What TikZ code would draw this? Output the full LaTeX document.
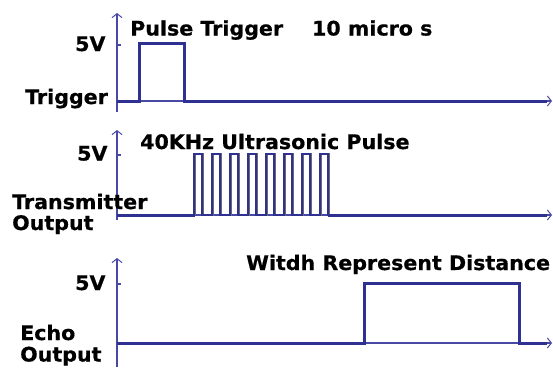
\documentclass[tikz,border=0pt]{standalone}
\usepackage{fontspec}
\setmainfont{DejaVu Sans}[FakeStretch=1.03, BoldFeatures={FakeBold=0.6}]
\usetikzlibrary{arrows.meta}
\definecolor{sig}{RGB}{46,49,146}
\definecolor{axc}{RGB}{72,72,165}
\definecolor{shd}{RGB}{105,105,110}
\begin{document}
\begin{tikzpicture}[x=1pt,y=-1pt,
  lbl/.style={font=\fontsize{20}{24}\selectfont\bfseries, inner sep=0pt, text=black, anchor=base west},
  axis/.style={draw=axc, line width=1.2pt, -{Straight Barb[length=4pt,width=10pt,line width=1pt]}},
  signal/.style={draw=sig, line width=3pt, line join=miter},
  train/.style={draw=sig, line width=1.7pt, line join=miter},
  trainshade/.style={draw=shd, line width=1.5pt, line join=miter},
  tickmark/.style={draw=axc, line width=1.4pt}]
\useasboundingbox (0,0) rectangle (553,367);

% ---------------- Panel 1: Trigger ----------------
\coordinate (o1) at (117,112);
\coordinate (t1) at (117,13);
\coordinate (h1) at (117,101);
\coordinate (r1) at (552,101);
\draw[axis] (o1) -- (t1);
\draw[axis] (h1) -- (r1);
\draw[tickmark] (117,45) -- (120.5,45);
\draw[signal] (h1) -- (139,101) -- (139,43) -- (184,43) -- (184,101) -- (547,101);
\node[lbl] (v1) at (75,51) {5V};
\node[lbl] (trg) at (25,104) {Trigger};
\node[lbl] (ttl1) at (130,35.5) {Pulse Trigger\hspace{29pt}10 micro s};

% ---------------- Panel 2: Transmitter ----------------
\coordinate (o2) at (117,220);
\coordinate (t2) at (117,130);
\coordinate (h2) at (117,215);
\coordinate (r2) at (552,215);
\draw[axis] (o2) -- (t2);
\draw[axis] (h2) -- (r2);
\draw[tickmark] (117,155) -- (120.5,155);
\draw[trainshade] (195.6,215) \foreach \k in {0,...,7} {
   -- ({195.6+18*\k},154) -- ({203.6+18*\k},154) -- ({203.6+18*\k},215) -- ({213.6+18*\k},215) };
\draw[signal] (h2) -- (195,215);
\draw[train] (194,215) \foreach \k in {0,...,7} {
   -- ({194+18*\k},154) -- ({202+18*\k},154) -- ({202+18*\k},215) -- ({212+18*\k},215) };
\draw[signal] (328,215) -- (547,215);
\node[lbl] (v2) at (77,160.5) {5V};
\node[lbl] (ttl2) at (140,149) {40KHz Ultrasonic Pulse};
\node[lbl] (tx1) at (12,209) {Transmitter};
\node[lbl] (tx2) at (12,230) {Output};

% ---------------- Panel 3: Echo ----------------
\coordinate (o3) at (117,367);
\coordinate (t3) at (117,258);
\coordinate (h3) at (117,343);
\coordinate (r3) at (552,343);
\draw[axis] (o3) -- (t3);
\draw[axis] (h3) -- (r3);
\draw[tickmark] (117,284) -- (120.5,284);
\draw[signal] (h3) -- (364,343) -- (364,283) -- (519,283) -- (519,343) -- (547,343);
\node[lbl] (v3) at (75,290) {5V};
\node[lbl] (ttl3) at (246,270) {Witdh Represent Distance};
\node[lbl] (ec1) at (20,340) {Echo};
\node[lbl] (ec2) at (20,361.5) {Output};
\end{tikzpicture}
\end{document}
